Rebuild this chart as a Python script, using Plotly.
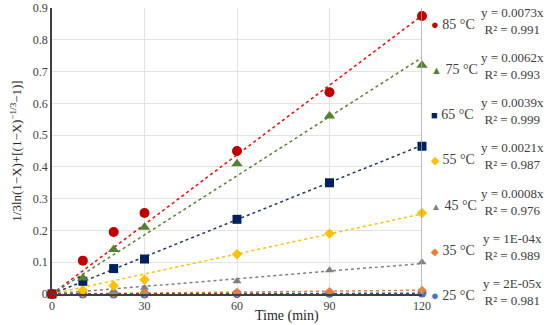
import plotly.graph_objects as go

time_min = [0, 10, 20, 30, 60, 90, 120]
labels = ["85 °C", "75 °C", "65 °C", "55 °C", "45 °C", "35 °C", "25 °C"]
values = [
    [0, 0.105, 0.195, 0.255, 0.450, 0.635, 0.875],
    [0, 0.050, 0.140, 0.210, 0.410, 0.560, 0.720],
    [0, 0.040, 0.080, 0.110, 0.235, 0.350, 0.465],
    [0, 0.012, 0.026, 0.045, 0.125, 0.190, 0.255],
    [0, 0.005, 0.010, 0.020, 0.040, 0.075, 0.100],
    [0, 0.001, 0.002, 0.003, 0.005, 0.008, 0.012],
    [0, 0.000, 0.000, 0.000, 0.001, 0.002, 0.003],
]
slopes = [0.0073, 0.0062, 0.0039, 0.0021, 0.0008, 1e-4, 2e-5]
slope_txt = ["0.0073", "0.0062", "0.0039", "0.0021", "0.0008", "1E-04", "2E-05"]
r2 = ["0.991", "0.993", "0.999", "0.987", "0.976", "0.989", "0.981"]
x_ticks = [0, 30, 60, 90, 120]

marker_colors = ["#C00000", "#548235", "#002060", "#FFC000", "#7F7F7F", "#ED7D31", "#4472C4"]
line_colors = ["#FF0000", "#548235", "#203864", "#FFC000", "#7F7F7F", "#ED7D31", "#2F5597"]
symbols = ["circle", "triangle-up", "square", "diamond", "triangle-up", "diamond", "circle"]
sizes = [10, 10, 9, 8, 8, 7, 9]
glyphs = ["●", "▲", "■", "◆", "▲", "◆", "●"]
glyph_sizes = [13, 11, 11, 11, 10, 10, 13]

FONT = "Liberation Serif, Times New Roman, serif"
fig = go.Figure()

# trend lines (drawn first, under markers)
for i in range(len(labels)):
    xs = [time_min[0], time_min[-1]]
    ys = [slopes[i] * x for x in xs]
    fig.add_trace(go.Scatter(x=xs, y=ys, mode="lines",
                             line=dict(color=line_colors[i], width=1.5, dash="dot"),
                             showlegend=False, cliponaxis=False, hoverinfo="skip"))

# data markers, draw lower temperatures first
for i in reversed(range(len(labels))):
    fig.add_trace(go.Scatter(x=time_min, y=values[i], mode="markers", name=labels[i],
                             marker=dict(color=marker_colors[i], symbol=symbols[i], size=sizes[i]),
                             showlegend=False, cliponaxis=False))

# right-hand legend with equations
top_y = 24
step = 45.3
plot_top, plot_bottom = 8, 294
for i in range(len(labels)):
    ypix = top_y + i * step
    yp = 1 - (ypix - plot_top) / (plot_bottom - plot_top)
    fig.add_annotation(xref="paper", yref="paper", x=1.02, y=yp, xanchor="left", yanchor="middle",
                       text=f"<span style='color:{marker_colors[i]};font-size:{glyph_sizes[i]}px'>{glyphs[i]}</span> {labels[i]}",
                       showarrow=False, font=dict(family=FONT, size=14, color="#404040"))
    fig.add_annotation(xref="paper", yref="paper", x=1.245, y=yp + 0.012, xanchor="center", yanchor="middle",
                       text=f"y = {slope_txt[i]}x<br>R² = {r2[i]}",
                       showarrow=False, align="center",
                       font=dict(family=FONT, size=13, color="#404040"))

# right border line at x max
fig.add_shape(type="line", xref="x", yref="paper", x0=120, x1=120, y0=0, y1=1,
              line=dict(color="#A6A6A6", width=1.5))

fig.add_annotation(xref="paper", yref="paper", x=0.635, y=-0.043, xanchor="center", yanchor="top",
                   text="Time (min)", showarrow=False, font=dict(family=FONT, size=14, color="#262626"))

fig.update_xaxes(range=[0, 120], tickvals=x_ticks, showgrid=True, gridcolor="#E3E3E3", gridwidth=1,
                 zeroline=False, showline=True, linecolor="#404040", linewidth=1.5, automargin=False,
                 tickfont=dict(family=FONT, size=12, color="#404040"), ticks="", ticklen=0)
fig.update_yaxes(range=[0, 0.9], dtick=0.1, showgrid=True, gridcolor="#E3E3E3", gridwidth=1,
                 zeroline=False, showline=True, linecolor="#404040", linewidth=1.5, automargin=False,
                 tickfont=dict(family=FONT, size=12, color="#404040"), tickformat="~g",
                 title=dict(text="1/3ln(1−X)+[(1−X)<sup>−1/3</sup>−1)]", standoff=8,
                            font=dict(family=FONT, size=13, color="#262626")))

fig.update_layout(width=550, height=325, margin=dict(l=52, r=128, t=8, b=31),
                  plot_bgcolor="white", paper_bgcolor="white", showlegend=False,
                  font=dict(family=FONT))

fig.write_html("out.html", config={"displayModeBar": False},
               post_script="document.body.style.margin='0';document.body.style.overflow='hidden';")
